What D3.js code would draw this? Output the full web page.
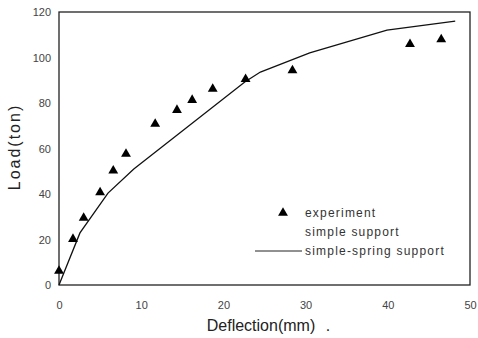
<!DOCTYPE html>
<html><head><meta charset="utf-8">
<script src="https://cdn.jsdelivr.net/npm/d3@7"></script>
<style>body{margin:0;background:#fff}svg{display:block}</style>
</head><body><svg id="c" width="478" height="338"></svg>
<script>
// experiment (triangles)
const expX = [0, 1.7, 3.0, 5.0, 6.6, 8.15, 11.7, 14.35, 16.2, 18.7, 22.7, 28.4, 42.7, 46.5];
const expY = [6.2, 20.2, 29.5, 40.7, 50.3, 57.6, 70.8, 76.9, 81.3, 86.2, 90.5, 94.3, 105.9, 107.9];
// simple-spring support (line)
const lineX = [0, 2.55, 5.96, 9.1, 22.6, 24.5, 30.5, 39.9, 48.2];
const lineY = [0, 22.9, 40.4, 51, 89.2, 93.6, 102, 112, 116];
const xTicks = [0, 10, 20, 30, 40, 50];
const yTicks = [0, 20, 40, 60, 80, 100, 120];
const legendLabels = ["experiment", "simple support", "simple-spring support"];
const xTitle = "Deflection(mm)";
const yTitle = "Load(ton)";

const svg = d3.select("#c");
const L = 59, R = 470, T = 12, B = 285;
const x = d3.scaleLinear().domain([0, 50]).range([L, R]);
const y = d3.scaleLinear().domain([0, 120]).range([B, T]);
const font = "'Liberation Sans', Arial, sans-serif";

// axes
const xa = svg.append("g").attr("transform", `translate(0,${B})`)
  .call(d3.axisBottom(x).tickValues(xTicks).tickSize(0).tickPadding(16));
const ya = svg.append("g").attr("transform", `translate(${L},0)`)
  .call(d3.axisLeft(y).tickValues(yTicks).tickSize(0).tickPadding(8));
[xa, ya].forEach(g => {
  g.select(".domain").remove();
  g.selectAll("text").attr("font-family", font).attr("font-size", 11).attr("fill", "#444");
});

// frame
svg.append("rect").attr("x", L).attr("y", T).attr("width", R - L).attr("height", B - T)
  .attr("fill", "none").attr("stroke", "#222").attr("stroke-width", 1.3);

// line
const pts = lineX.map((v, i) => [v, lineY[i]]);
svg.append("path").datum(pts)
  .attr("d", d3.line().x(d => x(d[0])).y(d => y(d[1])))
  .attr("fill", "none").attr("stroke", "#111").attr("stroke-width", 1.3);

// triangles
const tri = d3.symbol().type(d3.symbolTriangle).size(42);
svg.append("g").selectAll("path").data(expX.map((v, i) => [v, expY[i]])).join("path")
  .attr("d", tri).attr("transform", d => `translate(${x(d[0])},${y(d[1])})`)
  .attr("fill", "#000");

// legend
const lg = svg.append("g").attr("font-family", font).attr("font-size", 12).attr("fill", "#333");
const rowY = [213, 232, 251];
lg.append("path").attr("d", tri).attr("transform", `translate(283,${rowY[0]})`).attr("fill", "#000");
lg.append("line").attr("x1", 255).attr("x2", 302).attr("y1", rowY[2]).attr("y2", rowY[2])
  .attr("stroke", "#222").attr("stroke-width", 1);
legendLabels.forEach((t, i) => {
  lg.append("text").attr("x", 305).attr("y", rowY[i]).attr("dy", "0.35em")
    .attr("letter-spacing", "1.2px").text(t);
});

// titles
svg.append("text").attr("x", 261).attr("y", 325).attr("dy", "0.35em").attr("text-anchor", "middle")
  .attr("font-family", font).attr("font-size", 16).attr("fill", "#222").text(xTitle);
svg.append("text").attr("x", 328).attr("y", 325).attr("dy", "0.35em").attr("text-anchor", "middle")
  .attr("font-family", font).attr("font-size", 16).attr("fill", "#222").text(".");
svg.append("text").attr("transform", "translate(14,147) rotate(-90)").attr("dy", "0.35em")
  .attr("text-anchor", "middle").attr("letter-spacing", "2px")
  .attr("font-family", font).attr("font-size", 16).attr("fill", "#222").text(yTitle);
</script>
</body></html>
